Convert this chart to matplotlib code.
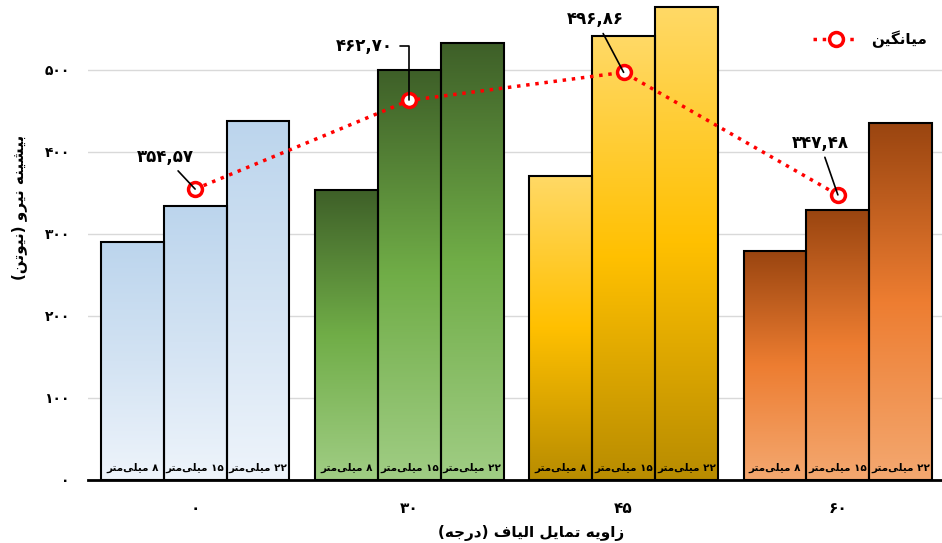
import re
import numpy as np
import matplotlib
matplotlib.use('Agg')
import matplotlib.pyplot as plt
from matplotlib.colors import LinearSegmentedColormap

plt.rcParams['font.family'] = ['DejaVu Sans']
plt.rcParams['font.weight'] = 'bold'

# data
angles = ['۰', '۳۰', '۴۵', '۶۰']
lengths = ['۸ میلی\u200cمتر', '۱۵ میلی\u200cمتر', '۲۲ میلی\u200cمتر']
force_8 = [290, 354, 371, 279]
force_15 = [334, 500, 541, 329]
force_22 = [438, 533, 576, 434.5]
means = [354.57, 462.70, 496.86, 347.48]
mean_labels = ['۳۵۴,۵۷', '۴۶۲,۷۰', '۴۹۶,۸۶', '۳۴۷,۴۸']
y_ticks = [0, 100, 200, 300, 400, 500]
y_tick_labels = ['۰', '۱۰۰', '۲۰۰', '۳۰۰', '۴۰۰', '۵۰۰']
x_label = 'زاویه تمایل الیاف (درجه)'
y_label = 'بیشینه نیرو (نیوتن)'
legend_label = 'میانگین'

# gradient colours per angle group (top -> bottom)
group_colors = [
    ['#bcd5ed', '#d3e3f3', '#eef4fb'],
    ['#3e5f28', '#70ad47', '#a0cd84'],
    ['#ffd966', '#ffc000', '#b88c00'],
    ['#9a4510', '#ed7d31', '#f4a870'],
]

# persian shaping (matplotlib has no bidi / shaping of its own)
FORMS = {
    'ا': ('\uFE8D', '\uFE8E', None, None),
    'ب': ('\uFE8F', '\uFE90', '\uFE91', '\uFE92'),
    'ت': ('\uFE95', '\uFE96', '\uFE97', '\uFE98'),
    'ج': ('\uFE9D', '\uFE9E', '\uFE9F', '\uFEA0'),
    'د': ('\uFEA9', '\uFEAA', None, None),
    'ر': ('\uFEAD', '\uFEAE', None, None),
    'ز': ('\uFEAF', '\uFEB0', None, None),
    'ش': ('\uFEB5', '\uFEB6', '\uFEB7', '\uFEB8'),
    'ف': ('\uFED1', '\uFED2', '\uFED3', '\uFED4'),
    'ل': ('\uFEDD', '\uFEDE', '\uFEDF', '\uFEE0'),
    'م': ('\uFEE1', '\uFEE2', '\uFEE3', '\uFEE4'),
    'ن': ('\uFEE5', '\uFEE6', '\uFEE7', '\uFEE8'),
    'ه': ('\uFEE9', '\uFEEA', '\uFEEB', '\uFEEC'),
    'و': ('\uFEED', '\uFEEE', None, None),
    'ی': ('\uFBFC', '\uFBFD', '\uFBFE', '\uFBFF'),
    'گ': ('\uFB92', '\uFB93', '\uFB94', '\uFB95'),
}


def fa(text):
    out = []
    for i, c in enumerate(text):
        if c not in FORMS:
            if c != '\u200c':
                out.append(c)
            continue
        prev = text[i - 1] if i > 0 else None
        nxt = text[i + 1] if i + 1 < len(text) else None
        jp = prev in FORMS and FORMS[prev][2] is not None
        jn = nxt in FORMS and FORMS[c][2] is not None
        iso, fin, ini, med = FORMS[c]
        out.append(med if jp and jn else fin if jp else ini if jn else iso)
    s = ''.join(reversed(out))
    s = s.translate(str.maketrans('()', ')('))
    return re.sub('[۰-۹,]+', lambda m: m.group(0)[::-1], s)


fig = plt.figure(figsize=(9.42, 5.43), dpi=100)
ax = fig.add_axes([88 / 942, 63 / 543, 857 / 942, 480 / 543])

x = np.arange(len(angles))
width = 0.293
series = [force_8, force_15, force_22]

for k, vals in enumerate(series):
    bars = ax.bar(x + (k - 1) * width, vals, width, facecolor='none',
                  edgecolor='black', linewidth=1.5, zorder=3)
    for g, patch in enumerate(bars):
        cmap = LinearSegmentedColormap.from_list('g%d' % g, group_colors[g])
        grad = np.linspace(0, 1, 256).reshape(-1, 1)
        x0 = patch.get_x()
        im = ax.imshow(grad, cmap=cmap, aspect='auto', origin='upper',
                       extent=[x0, x0 + patch.get_width(), 0, patch.get_height()],
                       zorder=2)
        im.set_clip_path(patch)
        ax.text(x0 + patch.get_width() / 2, 9, fa(lengths[k]), ha='center',
                va='bottom', fontsize=7.5, fontweight='bold', zorder=4)

ax.plot(x, means, linestyle=':', color='red', linewidth=2.5, marker='o',
        markersize=10, markerfacecolor='white', markeredgecolor='red',
        markeredgewidth=2.5, zorder=5, label=fa(legend_label))

offsets = [(-30, 32), (-45, 54), (-28, 53), (-18, 52)]
for i in range(len(means)):
    if i == 1:
        props = dict(arrowstyle='-', color='black', lw=1.2, shrinkA=3, shrinkB=0,
                     relpos=(1, 0.5), connectionstyle='angle,angleA=0,angleB=90,rad=0')
    else:
        props = dict(arrowstyle='-', color='black', lw=1.2, shrinkA=2, shrinkB=0)
    ax.annotate(mean_labels[i], (x[i], means[i]), xytext=offsets[i],
                textcoords='offset pixels', ha='center', va='center',
                fontsize=12, fontweight='bold', arrowprops=props, zorder=6)

ax.set_xlim(-0.5, 3.5)
ax.set_ylim(0, 585)
ax.set_yticks(y_ticks)
ax.set_yticklabels(y_tick_labels, fontsize=10, fontweight='bold')
ax.set_xticks(x)
ax.set_xticklabels(angles, fontsize=11, fontweight='bold')
ax.tick_params(axis='both', length=0)
ax.tick_params(axis='y', pad=13)
ax.tick_params(axis='x', pad=15)
ax.grid(axis='y', color='#d9d9d9', linewidth=1, zorder=0)
ax.set_axisbelow(True)
for side in ['left', 'right', 'top']:
    ax.spines[side].set_visible(False)
ax.spines['bottom'].set_linewidth(2)
ax.spines['bottom'].set_zorder(7)

ax.set_xlabel(fa(x_label), fontsize=11, fontweight='bold')
ax.xaxis.set_label_coords(0.517, -0.094)
ax.set_ylabel(fa(y_label), fontsize=11, fontweight='bold')
ax.yaxis.set_label_coords(-0.071, 0.567)

ax.legend(loc='upper right', bbox_to_anchor=(0.995, 0.965), frameon=False,
          fontsize=11, handlelength=3, numpoints=1)

fig.savefig('out.png', dpi=100)
